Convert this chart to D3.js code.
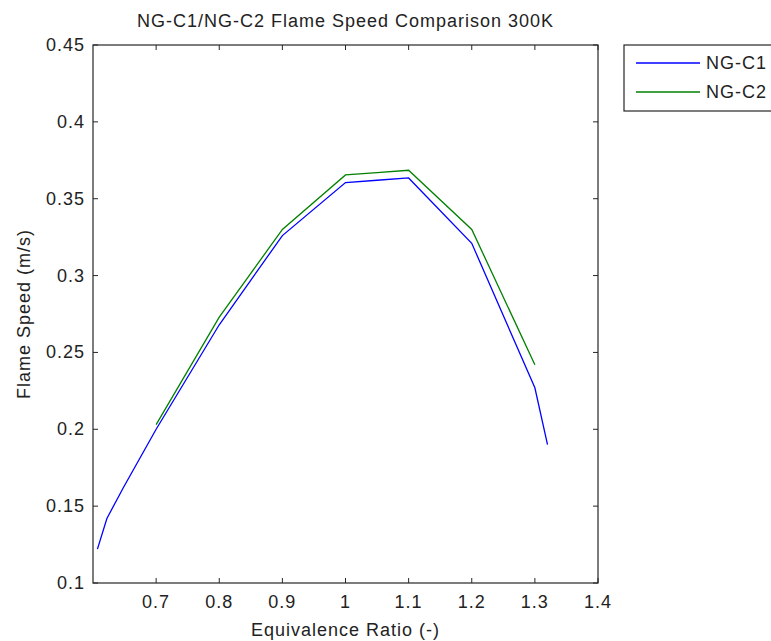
<!DOCTYPE html>
<html>
<head>
<meta charset="utf-8">
<script src="https://cdn.jsdelivr.net/npm/d3@7"></script>
<style>
  body { margin: 0; background: #fff; }
  text { font-family: "Liberation Sans", Arial, sans-serif; fill: #222; }
</style>
</head>
<body>
<div id="chart"></div>
<script>
// flame speed data
const phiC1 = [0.607, 0.622, 0.648, 0.7, 0.8, 0.9, 1.0, 1.05, 1.1, 1.2, 1.3, 1.32];
const speedC1 = [0.122, 0.142, 0.162, 0.2, 0.268, 0.326, 0.3605, 0.362, 0.3635, 0.321, 0.227, 0.19];
const phiC2 = [0.7, 0.8, 0.9, 1.0, 1.05, 1.1, 1.2, 1.3];
const speedC2 = [0.203, 0.273, 0.330, 0.3655, 0.367, 0.3685, 0.330, 0.242];
const seriesNames = ["NG-C1", "NG-C2"];
const seriesColors = ["#0000ff", "#008000"];
const xTicks = [0.7, 0.8, 0.9, 1, 1.1, 1.2, 1.3, 1.4];
const yTicks = [0.1, 0.15, 0.2, 0.25, 0.3, 0.35, 0.4, 0.45];

const width = 771, height = 641;
const margin = {left: 93, right: 173, top: 45, bottom: 58};

const svg = d3.select("#chart").append("svg")
  .attr("width", width)
  .attr("height", height);

const x = d3.scaleLinear().domain([0.6, 1.4]).range([margin.left, width - margin.right]);
const y = d3.scaleLinear().domain([0.1, 0.45]).range([height - margin.bottom, margin.top]);

const fs = "18px", ls = "1px";

// box + inward ticks on all sides
const axisColor = "#262626";
svg.append("rect")
  .attr("x", x(0.6)).attr("y", y(0.45))
  .attr("width", x(1.4) - x(0.6)).attr("height", y(0.1) - y(0.45))
  .attr("fill", "none").attr("stroke", axisColor).attr("stroke-width", 1.2);

const tickLen = 5;
xTicks.forEach(t => {
  svg.append("line").attr("x1", x(t)).attr("x2", x(t))
    .attr("y1", y(0.1)).attr("y2", y(0.1) - tickLen).attr("stroke", axisColor);
  svg.append("line").attr("x1", x(t)).attr("x2", x(t))
    .attr("y1", y(0.45)).attr("y2", y(0.45) + tickLen).attr("stroke", axisColor);
  svg.append("text").attr("x", x(t)).attr("y", y(0.1) + 25)
    .attr("text-anchor", "middle").style("font-size", fs).style("letter-spacing", ls)
    .text(d3.format("")(t));
});
yTicks.forEach(t => {
  svg.append("line").attr("x1", x(0.6)).attr("x2", x(0.6) + tickLen)
    .attr("y1", y(t)).attr("y2", y(t)).attr("stroke", axisColor);
  svg.append("line").attr("x1", x(1.4)).attr("x2", x(1.4) - tickLen)
    .attr("y1", y(t)).attr("y2", y(t)).attr("stroke", axisColor);
  svg.append("text").attr("x", x(0.6) - 8).attr("y", y(t) + 6)
    .attr("text-anchor", "end").style("font-size", fs).style("letter-spacing", ls)
    .text(d3.format("")(t));
});

// lines
const line = d3.line().x(d => x(d[0])).y(d => y(d[1]));
const series = [
  d3.zip(phiC1, speedC1),
  d3.zip(phiC2, speedC2)
];
series.forEach((s, i) => {
  svg.append("path").datum(s)
    .attr("d", line)
    .attr("fill", "none")
    .attr("stroke", seriesColors[i])
    .attr("stroke-width", 1.3);
});

// title and labels
svg.append("text").attr("x", (x(0.6) + x(1.4)) / 2).attr("y", 27)
  .attr("text-anchor", "middle").style("font-size", fs).style("letter-spacing", ls)
  .text("NG-C1/NG-C2 Flame Speed Comparison 300K");
svg.append("text").attr("x", (x(0.6) + x(1.4)) / 2).attr("y", 636)
  .attr("text-anchor", "middle").style("font-size", fs).style("letter-spacing", ls)
  .text("Equivalence Ratio (-)");
svg.append("text")
  .attr("transform", `translate(30,${(y(0.1) + y(0.45)) / 2}) rotate(-90)`)
  .attr("text-anchor", "middle").style("font-size", fs).style("letter-spacing", ls)
  .text("Flame Speed (m/s)");

// legend
const lg = svg.append("g").attr("transform", "translate(624,45)");
lg.append("rect").attr("x", 0).attr("y", 0).attr("width", 160).attr("height", 66)
  .attr("fill", "#fff").attr("stroke", axisColor).attr("stroke-width", 1.2);
seriesNames.forEach((n, i) => {
  const ly = 18 + i * 29;
  lg.append("line").attr("x1", 12).attr("x2", 76).attr("y1", ly).attr("y2", ly)
    .attr("stroke", seriesColors[i]).attr("stroke-width", 1.3);
  lg.append("text").attr("x", 82).attr("y", ly + 6)
    .style("font-size", fs).style("letter-spacing", ls).text(n);
});
</script>
</body>
</html>
